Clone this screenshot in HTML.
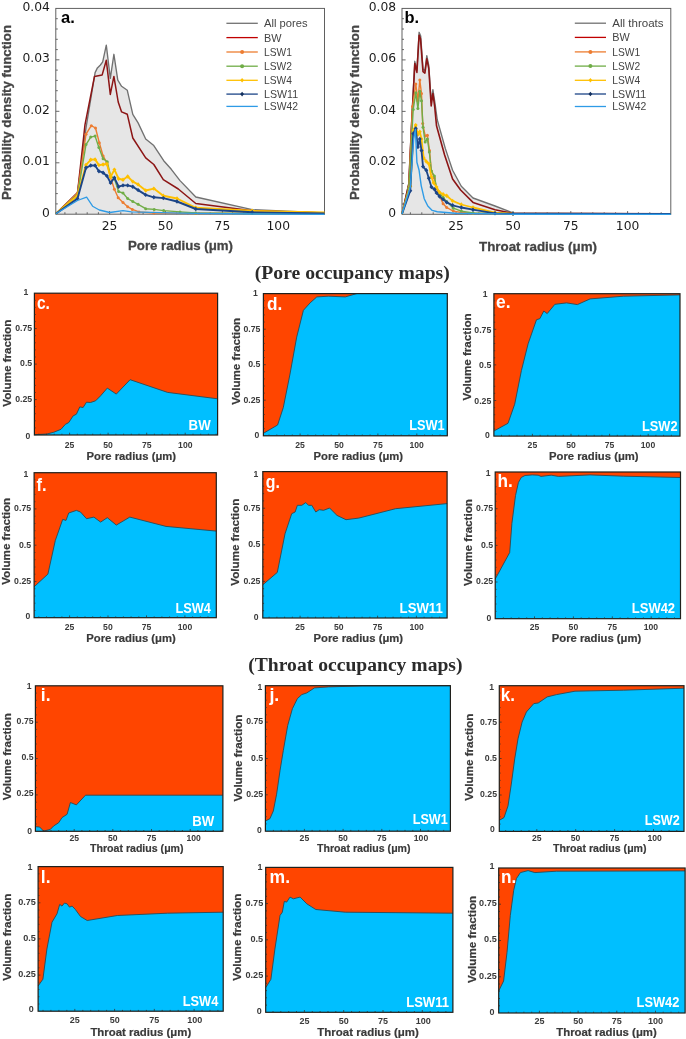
<!DOCTYPE html>
<html lang="en"><head><meta charset="utf-8"><title>Pore and throat occupancy</title>
<style>html,body{margin:0;padding:0;background:#fff}svg{display:block}.s{font-family:"Liberation Sans",sans-serif}.d{font-family:"DejaVu Sans","Liberation Sans",sans-serif}.r{font-family:"Liberation Serif",serif}</style></head><body>
<svg width="686" height="1039" viewBox="0 0 686 1039" style="will-change:transform">
<rect width="686" height="1039" fill="#fff"/>
<rect x="55.8" y="8.4" width="268.7" height="205.8" fill="#fff" stroke="none"/>
<path d="M55.8,213.8 L77.5,192.5 L86.0,128.0 L95.1,72.6 L97.4,67.9 L100.4,65.0 L102.7,61.8 L106.3,45.2 L110.3,78.3 L113.9,54.3 L117.8,80.2 L121.6,86.3 L127.3,90.3 L132.8,114.3 L138.1,122.9 L145.7,139.0 L153.8,145.6 L163.7,160.7 L171.3,169.3 L180.0,180.6 L195.8,197.0 L252.2,209.7 L324.5,212.8 L324.5,214.2 L55.8,214.2Z" fill="#e6e6e6" stroke="none"/>
<rect x="55.8" y="8.4" width="268.7" height="205.8" fill="none" stroke="#595959" stroke-width="0.95"/>
<text x="49.8" y="216.5" class="d" font-size="12.3" fill="#1a1a1a" text-anchor="end">0</text>
<text x="49.8" y="165.1" class="d" font-size="12.3" fill="#1a1a1a" text-anchor="end">0.01</text>
<text x="49.8" y="113.6" class="d" font-size="12.3" fill="#1a1a1a" text-anchor="end">0.02</text>
<text x="49.8" y="62.1" class="d" font-size="12.3" fill="#1a1a1a" text-anchor="end">0.03</text>
<text x="49.8" y="10.7" class="d" font-size="12.3" fill="#1a1a1a" text-anchor="end">0.04</text>
<text x="109.6" y="229.5" class="d" font-size="12.3" fill="#1a1a1a" text-anchor="middle">25</text>
<text x="165.5" y="229.5" class="d" font-size="12.3" fill="#1a1a1a" text-anchor="middle">50</text>
<text x="222.4" y="229.5" class="d" font-size="12.3" fill="#1a1a1a" text-anchor="middle">75</text>
<text x="278.3" y="229.5" class="d" font-size="12.3" fill="#1a1a1a" text-anchor="middle">100</text>
<path d="M55.8,162.8h3.6M55.8,111.3h3.6M55.8,59.8h3.6M55.8,203.9h2M55.8,193.6h2M55.8,183.3h2M55.8,173.0h2M55.8,152.5h2M55.8,142.2h2M55.8,131.9h2M55.8,121.6h2M55.8,101.0h2M55.8,90.7h2M55.8,80.4h2M55.8,70.1h2M55.8,49.6h2M55.8,39.3h2M55.8,29.0h2M55.8,18.7h2M109.6,214.2v-3.2M165.5,214.2v-3.2M222.4,214.2v-3.2M278.3,214.2v-3.2M64.9,214.2v-2M76.1,214.2v-2M87.2,214.2v-2M98.4,214.2v-2M120.8,214.2v-2M132.0,214.2v-2M143.1,214.2v-2M154.3,214.2v-2M176.7,214.2v-2M187.9,214.2v-2M199.0,214.2v-2M210.2,214.2v-2M232.6,214.2v-2M243.8,214.2v-2M254.9,214.2v-2M266.1,214.2v-2M288.5,214.2v-2M299.7,214.2v-2M310.8,214.2v-2M322.0,214.2v-2" fill="none" stroke="#595959" stroke-width="0.9"/>
<path d="M55.8,213.8 L77.5,192.5 L86.0,128.0 L95.1,72.6 L97.4,67.9 L100.4,65.0 L102.7,61.8 L106.3,45.2 L110.3,78.3 L113.9,54.3 L117.8,80.2 L121.6,86.3 L127.3,90.3 L132.8,114.3 L138.1,122.9 L145.7,139.0 L153.8,145.6 L163.7,160.7 L171.3,169.3 L180.0,180.6 L195.8,197.0 L252.2,209.7 L324.5,212.8" fill="none" stroke="#717171" stroke-width="1.35" stroke-linejoin="round"/>
<path d="M55.8,213.8 L77.5,193.0 L85.0,124.7 L94.5,76.4 L102.1,75.1 L106.3,60.3 L110.3,94.4 L113.9,76.4 L118.2,102.0 L121.6,111.9 L127.3,114.3 L132.8,138.0 L145.7,157.9 L153.8,164.5 L163.3,179.7 L178.3,189.0 L195.8,203.5 L252.2,210.7 L324.5,213.0" fill="none" stroke="#8c1515" stroke-width="1.5" stroke-linejoin="round"/>
<path d="M55.8,213.8 L77.5,193.0 L86.0,134.2 L91.3,125.7 L95.5,128.0 L99.3,142.7 L103.1,156.0 L106.9,162.6 L110.3,176.9 L114.4,189.2 L118.2,197.7 L123.0,202.4 L127.7,206.8 L132.4,209.4 L139.0,211.9 L153.8,213.0 L195.8,213.3 L252.2,213.5 L324.5,213.6" fill="none" stroke="#ed7d31" stroke-width="1.4" stroke-linejoin="round"/>
<circle cx="77.5" cy="193.0" r="1.5" fill="#ed7d31"/>
<circle cx="86.0" cy="134.2" r="1.5" fill="#ed7d31"/>
<circle cx="91.3" cy="125.7" r="1.5" fill="#ed7d31"/>
<circle cx="95.5" cy="128.0" r="1.5" fill="#ed7d31"/>
<circle cx="99.3" cy="142.7" r="1.5" fill="#ed7d31"/>
<circle cx="103.1" cy="156.0" r="1.5" fill="#ed7d31"/>
<circle cx="106.9" cy="162.6" r="1.5" fill="#ed7d31"/>
<circle cx="110.3" cy="176.9" r="1.5" fill="#ed7d31"/>
<circle cx="114.4" cy="189.2" r="1.5" fill="#ed7d31"/>
<circle cx="118.2" cy="197.7" r="1.5" fill="#ed7d31"/>
<circle cx="123.0" cy="202.4" r="1.5" fill="#ed7d31"/>
<circle cx="127.7" cy="206.8" r="1.5" fill="#ed7d31"/>
<circle cx="132.4" cy="209.4" r="1.5" fill="#ed7d31"/>
<circle cx="139.0" cy="211.9" r="1.5" fill="#ed7d31"/>
<circle cx="153.8" cy="213.0" r="1.5" fill="#ed7d31"/>
<circle cx="195.8" cy="213.3" r="1.5" fill="#ed7d31"/>
<circle cx="252.2" cy="213.5" r="1.5" fill="#ed7d31"/>
<path d="M55.8,213.8 L77.5,194.9 L86.0,144.6 L90.7,137.1 L95.1,136.1 L98.9,147.5 L103.1,158.8 L107.2,161.7 L110.6,175.9 L114.4,178.7 L118.6,191.6 L123.0,193.0 L127.7,198.6 L132.8,201.5 L138.1,204.3 L145.7,208.7 L154.2,209.4 L163.7,210.6 L180.0,211.9 L195.8,213.0 L252.2,213.5 L324.5,213.6" fill="none" stroke="#70ad47" stroke-width="1.4" stroke-linejoin="round"/>
<circle cx="77.5" cy="194.9" r="1.5" fill="#70ad47"/>
<circle cx="86.0" cy="144.6" r="1.5" fill="#70ad47"/>
<circle cx="90.7" cy="137.1" r="1.5" fill="#70ad47"/>
<circle cx="95.1" cy="136.1" r="1.5" fill="#70ad47"/>
<circle cx="98.9" cy="147.5" r="1.5" fill="#70ad47"/>
<circle cx="103.1" cy="158.8" r="1.5" fill="#70ad47"/>
<circle cx="107.2" cy="161.7" r="1.5" fill="#70ad47"/>
<circle cx="110.6" cy="175.9" r="1.5" fill="#70ad47"/>
<circle cx="114.4" cy="178.7" r="1.5" fill="#70ad47"/>
<circle cx="118.6" cy="191.6" r="1.5" fill="#70ad47"/>
<circle cx="123.0" cy="193.0" r="1.5" fill="#70ad47"/>
<circle cx="127.7" cy="198.6" r="1.5" fill="#70ad47"/>
<circle cx="132.8" cy="201.5" r="1.5" fill="#70ad47"/>
<circle cx="138.1" cy="204.3" r="1.5" fill="#70ad47"/>
<circle cx="145.7" cy="208.7" r="1.5" fill="#70ad47"/>
<circle cx="154.2" cy="209.4" r="1.5" fill="#70ad47"/>
<circle cx="163.7" cy="210.6" r="1.5" fill="#70ad47"/>
<circle cx="180.0" cy="211.9" r="1.5" fill="#70ad47"/>
<circle cx="195.8" cy="213.0" r="1.5" fill="#70ad47"/>
<circle cx="252.2" cy="213.5" r="1.5" fill="#70ad47"/>
<path d="M55.8,213.8 L77.5,195.8 L86.0,164.9 L90.7,159.8 L95.1,159.4 L98.9,165.1 L103.1,164.5 L106.9,164.0 L110.6,176.9 L114.4,169.6 L118.6,178.7 L123.0,179.7 L127.7,176.5 L132.8,181.6 L138.1,184.4 L145.7,190.5 L153.8,188.6 L163.3,195.8 L177.0,198.5 L195.8,207.8 L252.2,210.8 L324.5,212.4" fill="none" stroke="#ffc000" stroke-width="1.9" stroke-linejoin="round"/>
<path d="M77.5,193.6l2,2.2l-2,2.2l-2,-2.2zM86.0,162.7l2,2.2l-2,2.2l-2,-2.2zM90.7,157.6l2,2.2l-2,2.2l-2,-2.2zM95.1,157.2l2,2.2l-2,2.2l-2,-2.2zM98.9,162.9l2,2.2l-2,2.2l-2,-2.2zM103.1,162.3l2,2.2l-2,2.2l-2,-2.2zM106.9,161.8l2,2.2l-2,2.2l-2,-2.2zM110.6,174.7l2,2.2l-2,2.2l-2,-2.2zM114.4,167.4l2,2.2l-2,2.2l-2,-2.2zM118.6,176.5l2,2.2l-2,2.2l-2,-2.2zM123.0,177.5l2,2.2l-2,2.2l-2,-2.2zM127.7,174.3l2,2.2l-2,2.2l-2,-2.2zM132.8,179.4l2,2.2l-2,2.2l-2,-2.2zM138.1,182.2l2,2.2l-2,2.2l-2,-2.2zM145.7,188.3l2,2.2l-2,2.2l-2,-2.2zM153.8,186.4l2,2.2l-2,2.2l-2,-2.2zM163.3,193.6l2,2.2l-2,2.2l-2,-2.2zM177.0,196.3l2,2.2l-2,2.2l-2,-2.2zM195.8,205.6l2,2.2l-2,2.2l-2,-2.2zM252.2,208.6l2,2.2l-2,2.2l-2,-2.2z" fill="#ffc000"/>
<path d="M55.8,213.8 L77.5,198.6 L86.0,167.8 L90.7,165.5 L95.1,165.5 L98.9,171.2 L103.1,172.7 L106.9,175.9 L110.6,182.9 L114.4,177.8 L118.6,186.7 L123.0,185.4 L127.7,185.4 L132.8,186.7 L138.1,190.1 L145.7,194.9 L153.8,197.3 L163.3,198.1 L177.0,201.5 L195.8,209.0 L252.2,212.3 L324.5,213.5" fill="none" stroke="#1c4587" stroke-width="1.9" stroke-linejoin="round"/>
<path d="M77.5,196.4l2,2.2l-2,2.2l-2,-2.2zM86.0,165.6l2,2.2l-2,2.2l-2,-2.2zM90.7,163.3l2,2.2l-2,2.2l-2,-2.2zM95.1,163.3l2,2.2l-2,2.2l-2,-2.2zM98.9,169.0l2,2.2l-2,2.2l-2,-2.2zM103.1,170.5l2,2.2l-2,2.2l-2,-2.2zM106.9,173.7l2,2.2l-2,2.2l-2,-2.2zM110.6,180.7l2,2.2l-2,2.2l-2,-2.2zM114.4,175.6l2,2.2l-2,2.2l-2,-2.2zM118.6,184.5l2,2.2l-2,2.2l-2,-2.2zM123.0,183.2l2,2.2l-2,2.2l-2,-2.2zM127.7,183.2l2,2.2l-2,2.2l-2,-2.2zM132.8,184.5l2,2.2l-2,2.2l-2,-2.2zM138.1,187.9l2,2.2l-2,2.2l-2,-2.2zM145.7,192.7l2,2.2l-2,2.2l-2,-2.2zM153.8,195.1l2,2.2l-2,2.2l-2,-2.2zM163.3,195.9l2,2.2l-2,2.2l-2,-2.2zM177.0,199.3l2,2.2l-2,2.2l-2,-2.2zM195.8,206.8l2,2.2l-2,2.2l-2,-2.2zM252.2,210.1l2,2.2l-2,2.2l-2,-2.2z" fill="#1c4587"/>
<path d="M55.8,213.8 L77.5,200.5 L86.6,197.1 L92.6,206.2 L99.3,210.0 L109.7,212.5 L123.0,210.6 L131.5,211.9 L180.0,213.2 L252.2,214.0 L324.5,214.3" fill="none" stroke="#2e9be6" stroke-width="1.3" stroke-linejoin="round"/>
<text x="180.5" y="250.4" class="s" font-size="13.68" font-weight="bold" stroke="#444" stroke-width="0.3" fill="#444" text-anchor="middle" textLength="105.0" lengthAdjust="spacingAndGlyphs">Pore radius (μm)</text>
<text x="11.4" y="112.5" class="s" font-size="13.68" font-weight="bold" stroke="#444" stroke-width="0.3" fill="#444" text-anchor="middle" textLength="175.0" lengthAdjust="spacingAndGlyphs" transform="rotate(-90 11.4 112.5)">Probability density function</text>
<text x="61.0" y="22.6" class="s" font-size="16.38" font-weight="bold" fill="#000" text-anchor="start" textLength="13.8" lengthAdjust="spacingAndGlyphs">a.</text>
<line x1="226.4" x2="257.8" y1="23.3" y2="23.3" stroke="#717171" stroke-width="1.3"/>
<text x="264.0" y="27.2" class="s" font-size="11.07" fill="#444" text-anchor="start" textLength="43.5" lengthAdjust="spacingAndGlyphs">All pores</text>
<line x1="226.4" x2="257.8" y1="37.6" y2="37.6" stroke="#c00000" stroke-width="1.3"/>
<text x="264.0" y="41.5" class="s" font-size="11.07" fill="#444" text-anchor="start" textLength="17.5" lengthAdjust="spacingAndGlyphs">BW</text>
<line x1="226.4" x2="257.8" y1="52" y2="52" stroke="#ed7d31" stroke-width="1.3"/>
<circle cx="242.10000000000002" cy="52" r="2" fill="#ed7d31"/>
<text x="264.0" y="55.9" class="s" font-size="11.07" fill="#444" text-anchor="start" textLength="27.9" lengthAdjust="spacingAndGlyphs">LSW1</text>
<line x1="226.4" x2="257.8" y1="66.2" y2="66.2" stroke="#70ad47" stroke-width="1.3"/>
<circle cx="242.10000000000002" cy="66.2" r="2" fill="#70ad47"/>
<text x="264.0" y="70.1" class="s" font-size="11.07" fill="#444" text-anchor="start" textLength="27.9" lengthAdjust="spacingAndGlyphs">LSW2</text>
<line x1="226.4" x2="257.8" y1="80.3" y2="80.3" stroke="#ffc000" stroke-width="1.3"/>
<path d="M242.10000000000002,78.0 l1.9,2.3 l-1.9,2.3 l-1.9,-2.3z" fill="#ffc000"/>
<text x="264.0" y="84.2" class="s" font-size="11.07" fill="#444" text-anchor="start" textLength="27.9" lengthAdjust="spacingAndGlyphs">LSW4</text>
<line x1="226.4" x2="257.8" y1="94.1" y2="94.1" stroke="#1c4587" stroke-width="1.3"/>
<path d="M242.10000000000002,91.8 l1.9,2.3 l-1.9,2.3 l-1.9,-2.3z" fill="#14305e"/>
<text x="264.0" y="98.0" class="s" font-size="11.07" fill="#444" text-anchor="start" textLength="34.1" lengthAdjust="spacingAndGlyphs">LSW11</text>
<line x1="226.4" x2="257.8" y1="106.4" y2="106.4" stroke="#2e9be6" stroke-width="1.3"/>
<text x="264.0" y="110.3" class="s" font-size="11.07" fill="#444" text-anchor="start" textLength="34.1" lengthAdjust="spacingAndGlyphs">LSW42</text>
<rect x="402.0" y="8.4" width="268.8" height="205.9" fill="#fff" stroke="none"/>
<path d="M402.0,214.0 L408.8,183.5 L411.5,124.0 L414.8,61.3 L416.9,70.1 L419.1,32.3 L420.7,36.1 L423.0,69.1 L424.9,70.6 L426.8,55.6 L428.8,65.6 L431.2,102.1 L432.9,89.6 L434.9,102.6 L437.3,120.0 L445.3,148.4 L452.6,170.3 L461.3,186.3 L473.0,198.0 L495.0,206.0 L513.0,212.8 L670.8,213.8 L670.8,214.3 L402.0,214.3Z" fill="#e6e6e6" stroke="none"/>
<rect x="402.0" y="8.4" width="268.8" height="205.9" fill="none" stroke="#595959" stroke-width="0.95"/>
<text x="396.2" y="216.6" class="d" font-size="12.3" fill="#1a1a1a" text-anchor="end">0</text>
<text x="396.2" y="165.1" class="d" font-size="12.3" fill="#1a1a1a" text-anchor="end">0.02</text>
<text x="396.2" y="113.7" class="d" font-size="12.3" fill="#1a1a1a" text-anchor="end">0.04</text>
<text x="396.2" y="62.2" class="d" font-size="12.3" fill="#1a1a1a" text-anchor="end">0.06</text>
<text x="396.2" y="10.7" class="d" font-size="12.3" fill="#1a1a1a" text-anchor="end">0.08</text>
<text x="456" y="229.6" class="d" font-size="12.3" fill="#1a1a1a" text-anchor="middle">25</text>
<text x="513" y="229.6" class="d" font-size="12.3" fill="#1a1a1a" text-anchor="middle">50</text>
<text x="570.8" y="229.6" class="d" font-size="12.3" fill="#1a1a1a" text-anchor="middle">75</text>
<text x="627.6" y="229.6" class="d" font-size="12.3" fill="#1a1a1a" text-anchor="middle">100</text>
<path d="M402.0,162.8h3.6M402.0,111.4h3.6M402.0,59.9h3.6M402.0,204.0h2M402.0,193.7h2M402.0,183.4h2M402.0,173.1h2M402.0,152.5h2M402.0,142.2h2M402.0,131.9h2M402.0,121.6h2M402.0,101.1h2M402.0,90.8h2M402.0,80.5h2M402.0,70.2h2M402.0,49.6h2M402.0,39.3h2M402.0,29.0h2M402.0,18.7h2M456,214.3v-3.2M513,214.3v-3.2M570.8,214.3v-3.2M627.6,214.3v-3.2M410.4,214.3v-2M421.8,214.3v-2M433.2,214.3v-2M444.6,214.3v-2M467.4,214.3v-2M478.8,214.3v-2M490.2,214.3v-2M501.6,214.3v-2M524.4,214.3v-2M535.8,214.3v-2M547.2,214.3v-2M558.6,214.3v-2M581.4,214.3v-2M592.8,214.3v-2M604.2,214.3v-2M615.6,214.3v-2M638.4,214.3v-2M649.8,214.3v-2M661.2,214.3v-2" fill="none" stroke="#595959" stroke-width="0.9"/>
<path d="M402.0,214.0 L408.8,183.5 L411.5,124.0 L414.8,61.3 L416.9,70.1 L419.1,32.3 L420.7,36.1 L423.0,69.1 L424.9,70.6 L426.8,55.6 L428.8,65.6 L431.2,102.1 L432.9,89.6 L434.9,102.6 L437.3,120.0 L445.3,148.4 L452.6,170.3 L461.3,186.3 L473.0,198.0 L495.0,206.0 L513.0,212.8 L670.8,213.8" fill="none" stroke="#717171" stroke-width="1.35" stroke-linejoin="round"/>
<path d="M402.0,214.0 L408.8,184.1 L411.6,125.0 L414.8,63.6 L416.9,72.4 L419.1,35.2 L420.5,38.8 L423.0,71.6 L424.9,73.1 L426.8,58.8 L428.8,68.7 L431.2,105.9 L432.9,93.5 L434.7,106.6 L436.5,125.8 L444.6,155.0 L452.6,179.0 L460.6,190.0 L473.0,202.4 L495.0,209.7 L513.0,213.3 L670.8,213.8" fill="none" stroke="#8c1515" stroke-width="1.6" stroke-linejoin="round"/>
<path d="M402.0,214.0 L408.8,188.0 L412.5,106.6 L415.8,84.0 L417.9,100.8 L419.8,80.1 L421.5,93.5 L422.7,123.6 L425.2,136.0 L427.4,135.3 L429.5,150.6 L431.4,171.0 L434.4,178.0 L436.5,188.5 L439.5,195.8 L443.1,203.8 L446.7,207.5 L453.3,211.1 L461.3,212.5 L473.0,213.2 L513.0,213.8 L670.8,213.9" fill="none" stroke="#ed7d31" stroke-width="1.4" stroke-linejoin="round"/>
<circle cx="408.8" cy="188.0" r="1.5" fill="#ed7d31"/>
<circle cx="412.5" cy="106.6" r="1.5" fill="#ed7d31"/>
<circle cx="415.8" cy="84.0" r="1.5" fill="#ed7d31"/>
<circle cx="417.9" cy="100.8" r="1.5" fill="#ed7d31"/>
<circle cx="419.8" cy="80.1" r="1.5" fill="#ed7d31"/>
<circle cx="421.5" cy="93.5" r="1.5" fill="#ed7d31"/>
<circle cx="422.7" cy="123.6" r="1.5" fill="#ed7d31"/>
<circle cx="425.2" cy="136.0" r="1.5" fill="#ed7d31"/>
<circle cx="427.4" cy="135.3" r="1.5" fill="#ed7d31"/>
<circle cx="429.5" cy="150.6" r="1.5" fill="#ed7d31"/>
<circle cx="431.4" cy="171.0" r="1.5" fill="#ed7d31"/>
<circle cx="434.4" cy="178.0" r="1.5" fill="#ed7d31"/>
<circle cx="436.5" cy="188.5" r="1.5" fill="#ed7d31"/>
<circle cx="439.5" cy="195.8" r="1.5" fill="#ed7d31"/>
<circle cx="443.1" cy="203.8" r="1.5" fill="#ed7d31"/>
<circle cx="446.7" cy="207.5" r="1.5" fill="#ed7d31"/>
<circle cx="453.3" cy="211.1" r="1.5" fill="#ed7d31"/>
<circle cx="461.3" cy="212.5" r="1.5" fill="#ed7d31"/>
<circle cx="473.0" cy="213.2" r="1.5" fill="#ed7d31"/>
<circle cx="513.0" cy="213.8" r="1.5" fill="#ed7d31"/>
<path d="M402.0,214.0 L408.8,188.5 L413.2,109.5 L415.8,92.8 L417.9,108.4 L419.8,91.3 L421.5,100.8 L423.0,127.3 L425.2,141.9 L427.4,139.0 L429.3,152.0 L431.4,171.0 L434.4,176.1 L436.5,187.8 L439.5,192.9 L443.1,197.3 L446.7,201.6 L453.3,208.2 L461.3,211.1 L473.0,213.0 L513.0,213.8 L670.8,213.9" fill="none" stroke="#70ad47" stroke-width="1.4" stroke-linejoin="round"/>
<circle cx="408.8" cy="188.5" r="1.5" fill="#70ad47"/>
<circle cx="413.2" cy="109.5" r="1.5" fill="#70ad47"/>
<circle cx="415.8" cy="92.8" r="1.5" fill="#70ad47"/>
<circle cx="417.9" cy="108.4" r="1.5" fill="#70ad47"/>
<circle cx="419.8" cy="91.3" r="1.5" fill="#70ad47"/>
<circle cx="421.5" cy="100.8" r="1.5" fill="#70ad47"/>
<circle cx="423.0" cy="127.3" r="1.5" fill="#70ad47"/>
<circle cx="425.2" cy="141.9" r="1.5" fill="#70ad47"/>
<circle cx="427.4" cy="139.0" r="1.5" fill="#70ad47"/>
<circle cx="429.3" cy="152.0" r="1.5" fill="#70ad47"/>
<circle cx="431.4" cy="171.0" r="1.5" fill="#70ad47"/>
<circle cx="434.4" cy="176.1" r="1.5" fill="#70ad47"/>
<circle cx="436.5" cy="187.8" r="1.5" fill="#70ad47"/>
<circle cx="439.5" cy="192.9" r="1.5" fill="#70ad47"/>
<circle cx="443.1" cy="197.3" r="1.5" fill="#70ad47"/>
<circle cx="446.7" cy="201.6" r="1.5" fill="#70ad47"/>
<circle cx="453.3" cy="208.2" r="1.5" fill="#70ad47"/>
<circle cx="461.3" cy="211.1" r="1.5" fill="#70ad47"/>
<circle cx="473.0" cy="213.0" r="1.5" fill="#70ad47"/>
<circle cx="513.0" cy="213.8" r="1.5" fill="#70ad47"/>
<path d="M402.0,214.0 L410.3,186.3 L413.7,130.2 L415.7,125.1 L417.9,134.6 L419.8,131.7 L421.5,139.0 L423.7,157.9 L426.3,161.5 L428.8,163.7 L431.4,176.9 L433.6,182.7 L436.5,187.0 L439.5,192.2 L443.1,194.3 L446.7,195.8 L452.6,200.9 L461.3,204.5 L473.0,207.5 L495.0,212.6 L513.0,213.6 L670.8,213.9" fill="none" stroke="#ffc000" stroke-width="1.8" stroke-linejoin="round"/>
<path d="M410.3,184.1l2,2.2l-2,2.2l-2,-2.2zM413.7,128.0l2,2.2l-2,2.2l-2,-2.2zM415.7,122.9l2,2.2l-2,2.2l-2,-2.2zM417.9,132.4l2,2.2l-2,2.2l-2,-2.2zM419.8,129.5l2,2.2l-2,2.2l-2,-2.2zM421.5,136.8l2,2.2l-2,2.2l-2,-2.2zM423.7,155.7l2,2.2l-2,2.2l-2,-2.2zM426.3,159.3l2,2.2l-2,2.2l-2,-2.2zM428.8,161.5l2,2.2l-2,2.2l-2,-2.2zM431.4,174.7l2,2.2l-2,2.2l-2,-2.2zM433.6,180.5l2,2.2l-2,2.2l-2,-2.2zM436.5,184.8l2,2.2l-2,2.2l-2,-2.2zM439.5,190.0l2,2.2l-2,2.2l-2,-2.2zM443.1,192.1l2,2.2l-2,2.2l-2,-2.2zM446.7,193.6l2,2.2l-2,2.2l-2,-2.2zM452.6,198.7l2,2.2l-2,2.2l-2,-2.2zM461.3,202.3l2,2.2l-2,2.2l-2,-2.2zM473.0,205.3l2,2.2l-2,2.2l-2,-2.2zM495.0,210.4l2,2.2l-2,2.2l-2,-2.2zM513.0,211.4l2,2.2l-2,2.2l-2,-2.2z" fill="#ffc000"/>
<path d="M402.0,214.0 L410.3,190.7 L413.2,133.8 L415.7,128.5 L417.9,147.0 L419.8,139.0 L421.5,150.6 L423.0,166.6 L426.3,170.3 L428.8,178.3 L431.4,187.0 L434.4,189.2 L436.5,192.9 L439.5,196.5 L443.1,199.4 L446.7,202.4 L452.6,205.3 L461.3,207.5 L473.0,209.7 L495.0,213.3 L513.0,213.8 L670.8,213.9" fill="none" stroke="#1c4587" stroke-width="1.8" stroke-linejoin="round"/>
<path d="M410.3,188.5l2,2.2l-2,2.2l-2,-2.2zM413.2,131.6l2,2.2l-2,2.2l-2,-2.2zM415.7,126.3l2,2.2l-2,2.2l-2,-2.2zM417.9,144.8l2,2.2l-2,2.2l-2,-2.2zM419.8,136.8l2,2.2l-2,2.2l-2,-2.2zM421.5,148.4l2,2.2l-2,2.2l-2,-2.2zM423.0,164.4l2,2.2l-2,2.2l-2,-2.2zM426.3,168.1l2,2.2l-2,2.2l-2,-2.2zM428.8,176.1l2,2.2l-2,2.2l-2,-2.2zM431.4,184.8l2,2.2l-2,2.2l-2,-2.2zM434.4,187.0l2,2.2l-2,2.2l-2,-2.2zM436.5,190.7l2,2.2l-2,2.2l-2,-2.2zM439.5,194.3l2,2.2l-2,2.2l-2,-2.2zM443.1,197.2l2,2.2l-2,2.2l-2,-2.2zM446.7,200.2l2,2.2l-2,2.2l-2,-2.2zM452.6,203.1l2,2.2l-2,2.2l-2,-2.2zM461.3,205.3l2,2.2l-2,2.2l-2,-2.2zM473.0,207.5l2,2.2l-2,2.2l-2,-2.2zM495.0,211.1l2,2.2l-2,2.2l-2,-2.2zM513.0,211.6l2,2.2l-2,2.2l-2,-2.2z" fill="#1c4587"/>
<path d="M402.0,214.0 L410.3,187.0 L413.7,139.0 L415.4,129.5 L416.9,162.3 L419.1,170.3 L421.2,185.6 L424.2,198.7 L427.8,206.0 L432.2,210.4 L437.3,211.8 L455.0,213.2 L513.0,214.2 L670.8,214.4" fill="none" stroke="#2e9be6" stroke-width="1.4" stroke-linejoin="round"/>
<text x="538.0" y="250.5" class="s" font-size="13.68" font-weight="bold" stroke="#444" stroke-width="0.3" fill="#444" text-anchor="middle" textLength="118.0" lengthAdjust="spacingAndGlyphs">Throat radius (μm)</text>
<text x="358.5" y="112.5" class="s" font-size="13.68" font-weight="bold" stroke="#444" stroke-width="0.3" fill="#444" text-anchor="middle" textLength="175.0" lengthAdjust="spacingAndGlyphs" transform="rotate(-90 358.5 112.5)">Probability density function</text>
<text x="404.6" y="22.6" class="s" font-size="16.38" font-weight="bold" fill="#000" text-anchor="start" textLength="14.6" lengthAdjust="spacingAndGlyphs">b.</text>
<line x1="574.8" x2="606" y1="23.2" y2="23.2" stroke="#717171" stroke-width="1.3"/>
<text x="612.2" y="27.1" class="s" font-size="11.07" fill="#444" text-anchor="start" textLength="51.4" lengthAdjust="spacingAndGlyphs">All throats</text>
<line x1="574.8" x2="606" y1="37.4" y2="37.4" stroke="#c00000" stroke-width="1.3"/>
<text x="612.2" y="41.3" class="s" font-size="11.07" fill="#444" text-anchor="start" textLength="17.5" lengthAdjust="spacingAndGlyphs">BW</text>
<line x1="574.8" x2="606" y1="51.9" y2="51.9" stroke="#ed7d31" stroke-width="1.3"/>
<circle cx="590.4" cy="51.9" r="2" fill="#ed7d31"/>
<text x="612.2" y="55.8" class="s" font-size="11.07" fill="#444" text-anchor="start" textLength="27.9" lengthAdjust="spacingAndGlyphs">LSW1</text>
<line x1="574.8" x2="606" y1="66.1" y2="66.1" stroke="#70ad47" stroke-width="1.3"/>
<circle cx="590.4" cy="66.1" r="2" fill="#70ad47"/>
<text x="612.2" y="70.0" class="s" font-size="11.07" fill="#444" text-anchor="start" textLength="27.9" lengthAdjust="spacingAndGlyphs">LSW2</text>
<line x1="574.8" x2="606" y1="80.3" y2="80.3" stroke="#ffc000" stroke-width="1.3"/>
<path d="M590.4,78.0 l1.9,2.3 l-1.9,2.3 l-1.9,-2.3z" fill="#ffc000"/>
<text x="612.2" y="84.2" class="s" font-size="11.07" fill="#444" text-anchor="start" textLength="27.9" lengthAdjust="spacingAndGlyphs">LSW4</text>
<line x1="574.8" x2="606" y1="94" y2="94" stroke="#1c4587" stroke-width="1.3"/>
<path d="M590.4,91.7 l1.9,2.3 l-1.9,2.3 l-1.9,-2.3z" fill="#14305e"/>
<text x="612.2" y="97.9" class="s" font-size="11.07" fill="#444" text-anchor="start" textLength="34.1" lengthAdjust="spacingAndGlyphs">LSW11</text>
<line x1="574.8" x2="606" y1="106.5" y2="106.5" stroke="#2e9be6" stroke-width="1.3"/>
<text x="612.2" y="110.4" class="s" font-size="11.07" fill="#444" text-anchor="start" textLength="34.1" lengthAdjust="spacingAndGlyphs">LSW42</text>
<text x="352.3" y="278.7" class="r" font-size="19.7" font-weight="bold" fill="#2b2b2b" text-anchor="middle" textLength="195" lengthAdjust="spacingAndGlyphs">(Pore occupancy maps)</text>
<text x="355.4" y="671.2" class="r" font-size="19.7" font-weight="bold" fill="#2b2b2b" text-anchor="middle" textLength="214.3" lengthAdjust="spacingAndGlyphs">(Throat occupancy maps)</text>
<rect x="34.4" y="293.2" width="183.2" height="141.8" fill="#ff4500"/>
<path d="M34.4,434.7 L46.9,434.0 L53.6,432.3 L61.0,429.3 L65.4,424.3 L68.7,422.6 L73.1,415.9 L76.4,414.2 L79.8,406.9 L83.1,407.5 L86.5,402.2 L90.5,402.5 L95.6,400.8 L100.6,395.8 L107.3,388.1 L116.3,394.1 L130.1,379.7 L167.6,392.4 L217.6,398.8 L217.6,435.0 L34.4,435.0Z" fill="#00bfff" stroke="none"/>
<path d="M34.4,434.7 L46.9,434.0 L53.6,432.3 L61.0,429.3 L65.4,424.3 L68.7,422.6 L73.1,415.9 L76.4,414.2 L79.8,406.9 L83.1,407.5 L86.5,402.2 L90.5,402.5 L95.6,400.8 L100.6,395.8 L107.3,388.1 L116.3,394.1 L130.1,379.7 L167.6,392.4 L217.6,398.8" fill="none" stroke="#2b4a55" stroke-width="0.9" stroke-linejoin="round"/>
<rect x="34.4" y="293.2" width="183.2" height="141.8" fill="none" stroke="#20201c" stroke-width="1.2"/>
<text x="30.4" y="438.6" class="s" font-size="9.12" font-weight="bold" fill="#3a3a3a" text-anchor="end" textLength="4.8" lengthAdjust="spacingAndGlyphs">0</text>
<text x="32.2" y="401.6" class="s" font-size="9.12" font-weight="bold" fill="#3a3a3a" text-anchor="end" textLength="17.0" lengthAdjust="spacingAndGlyphs">0.25</text>
<text x="32.2" y="366.1" class="s" font-size="9.12" font-weight="bold" fill="#3a3a3a" text-anchor="end" textLength="12.2" lengthAdjust="spacingAndGlyphs">0.5</text>
<text x="32.2" y="330.6" class="s" font-size="9.12" font-weight="bold" fill="#3a3a3a" text-anchor="end" textLength="17.0" lengthAdjust="spacingAndGlyphs">0.75</text>
<text x="28.2" y="295.0" class="s" font-size="9.12" font-weight="bold" fill="#3a3a3a" text-anchor="end" textLength="4.8" lengthAdjust="spacingAndGlyphs">1</text>
<text x="69.6" y="448.0" class="s" font-size="9.12" font-weight="bold" fill="#3a3a3a" text-anchor="middle" textLength="9.6" lengthAdjust="spacingAndGlyphs">25</text>
<text x="108.0" y="448.0" class="s" font-size="9.12" font-weight="bold" fill="#3a3a3a" text-anchor="middle" textLength="9.6" lengthAdjust="spacingAndGlyphs">50</text>
<text x="146.7" y="448.0" class="s" font-size="9.12" font-weight="bold" fill="#3a3a3a" text-anchor="middle" textLength="9.6" lengthAdjust="spacingAndGlyphs">75</text>
<text x="185.3" y="448.0" class="s" font-size="9.12" font-weight="bold" fill="#3a3a3a" text-anchor="middle" textLength="14.4" lengthAdjust="spacingAndGlyphs">100</text>
<path d="M34.4,399.6h2.3M34.4,364.1h2.3M34.4,328.6h2.3M34.4,427.9h1.3M34.4,420.8h1.3M34.4,413.7h1.3M34.4,406.6h1.3M34.4,392.5h1.3M34.4,385.4h1.3M34.4,378.3h1.3M34.4,371.2h1.3M34.4,357.0h1.3M34.4,349.9h1.3M34.4,342.8h1.3M34.4,335.7h1.3M34.4,321.6h1.3M34.4,314.5h1.3M34.4,307.4h1.3M34.4,300.3h1.3M38.8,435.0v-1.3M46.5,435.0v-1.3M54.2,435.0v-1.3M61.9,435.0v-1.3M69.6,435.0v-2.3M77.3,435.0v-1.3M85.0,435.0v-1.3M92.7,435.0v-1.3M100.4,435.0v-1.3M108.1,435.0v-2.3M115.9,435.0v-1.3M123.6,435.0v-1.3M131.3,435.0v-1.3M139.0,435.0v-1.3M146.7,435.0v-2.3M154.4,435.0v-1.3M162.1,435.0v-1.3M169.8,435.0v-1.3M177.5,435.0v-1.3M185.2,435.0v-2.3M193.0,435.0v-1.3M200.7,435.0v-1.3M208.4,435.0v-1.3M216.1,435.0v-1.3" fill="none" stroke="#30302c" stroke-width="0.75"/>
<text x="131.3" y="459.7" class="s" font-size="11.70" font-weight="bold" stroke="#3a3a3a" stroke-width="0.2" fill="#3a3a3a" text-anchor="middle" textLength="89.5" lengthAdjust="spacingAndGlyphs">Pore radius (μm)</text>
<text x="11.3" y="363.2" class="s" font-size="11.70" font-weight="bold" stroke="#3a3a3a" stroke-width="0.2" fill="#3a3a3a" text-anchor="middle" textLength="87.0" lengthAdjust="spacingAndGlyphs" transform="rotate(-90 11.3 363.2)">Volume fraction</text>
<text x="36.9" y="308.6" class="s" font-size="17.60" font-weight="bold" fill="#fff" text-anchor="start" textLength="13.0" lengthAdjust="spacingAndGlyphs">c.</text>
<text x="210.7" y="430.2" class="s" font-size="15.40" font-weight="bold" fill="#fff" text-anchor="end" textLength="22.1" lengthAdjust="spacingAndGlyphs">BW</text>
<rect x="263.4" y="293.6" width="183.9" height="142.2" fill="#ff4500"/>
<path d="M263.4,433.3 L277.6,425.0 L283.3,407.5 L290.0,374.0 L296.7,337.1 L303.4,310.3 L310.1,302.9 L316.8,296.9 L328.6,296.2 L345.3,296.9 L357.0,293.5 L447.3,293.5 L447.3,435.8 L263.4,435.8Z" fill="#00bfff" stroke="none"/>
<path d="M263.4,433.3 L277.6,425.0 L283.3,407.5 L290.0,374.0 L296.7,337.1 L303.4,310.3 L310.1,302.9 L316.8,296.9 L328.6,296.2 L345.3,296.9 L357.0,293.5 L447.3,293.5" fill="none" stroke="#2b4a55" stroke-width="0.9" stroke-linejoin="round"/>
<rect x="263.4" y="293.6" width="183.9" height="142.2" fill="none" stroke="#20201c" stroke-width="1.2"/>
<text x="259.3" y="438.3" class="s" font-size="9.12" font-weight="bold" fill="#3a3a3a" text-anchor="end" textLength="4.8" lengthAdjust="spacingAndGlyphs">0</text>
<text x="260.4" y="402.6" class="s" font-size="9.12" font-weight="bold" fill="#3a3a3a" text-anchor="end" textLength="17.0" lengthAdjust="spacingAndGlyphs">0.25</text>
<text x="260.4" y="367.0" class="s" font-size="9.12" font-weight="bold" fill="#3a3a3a" text-anchor="end" textLength="12.2" lengthAdjust="spacingAndGlyphs">0.5</text>
<text x="260.4" y="331.5" class="s" font-size="9.12" font-weight="bold" fill="#3a3a3a" text-anchor="end" textLength="17.0" lengthAdjust="spacingAndGlyphs">0.75</text>
<text x="257.8" y="295.6" class="s" font-size="9.12" font-weight="bold" fill="#3a3a3a" text-anchor="end" textLength="4.8" lengthAdjust="spacingAndGlyphs">1</text>
<text x="300.1" y="448.0" class="s" font-size="9.12" font-weight="bold" fill="#3a3a3a" text-anchor="middle" textLength="9.6" lengthAdjust="spacingAndGlyphs">25</text>
<text x="339.0" y="448.0" class="s" font-size="9.12" font-weight="bold" fill="#3a3a3a" text-anchor="middle" textLength="9.6" lengthAdjust="spacingAndGlyphs">50</text>
<text x="377.9" y="448.0" class="s" font-size="9.12" font-weight="bold" fill="#3a3a3a" text-anchor="middle" textLength="9.6" lengthAdjust="spacingAndGlyphs">75</text>
<text x="416.7" y="448.0" class="s" font-size="9.12" font-weight="bold" fill="#3a3a3a" text-anchor="middle" textLength="14.4" lengthAdjust="spacingAndGlyphs">100</text>
<path d="M263.4,400.2h2.3M263.4,364.7h2.3M263.4,329.2h2.3M263.4,428.7h1.3M263.4,421.6h1.3M263.4,414.5h1.3M263.4,407.4h1.3M263.4,393.1h1.3M263.4,386.0h1.3M263.4,378.9h1.3M263.4,371.8h1.3M263.4,357.6h1.3M263.4,350.5h1.3M263.4,343.4h1.3M263.4,336.3h1.3M263.4,322.0h1.3M263.4,314.9h1.3M263.4,307.8h1.3M263.4,300.7h1.3M269.0,435.8v-1.3M276.8,435.8v-1.3M284.5,435.8v-1.3M292.3,435.8v-1.3M300.1,435.8v-2.3M307.9,435.8v-1.3M315.7,435.8v-1.3M323.4,435.8v-1.3M331.2,435.8v-1.3M339.0,435.8v-2.3M346.8,435.8v-1.3M354.6,435.8v-1.3M362.3,435.8v-1.3M370.1,435.8v-1.3M377.9,435.8v-2.3M385.7,435.8v-1.3M393.5,435.8v-1.3M401.2,435.8v-1.3M409.0,435.8v-1.3M416.8,435.8v-2.3M424.6,435.8v-1.3M432.4,435.8v-1.3M440.1,435.8v-1.3" fill="none" stroke="#30302c" stroke-width="0.75"/>
<text x="358.3" y="459.7" class="s" font-size="11.70" font-weight="bold" stroke="#3a3a3a" stroke-width="0.2" fill="#3a3a3a" text-anchor="middle" textLength="89.5" lengthAdjust="spacingAndGlyphs">Pore radius (μm)</text>
<text x="239.9" y="361.3" class="s" font-size="11.70" font-weight="bold" stroke="#3a3a3a" stroke-width="0.2" fill="#3a3a3a" text-anchor="middle" textLength="87.0" lengthAdjust="spacingAndGlyphs" transform="rotate(-90 239.9 361.3)">Volume fraction</text>
<text x="267.0" y="309.5" class="s" font-size="17.60" font-weight="bold" fill="#fff" text-anchor="start" textLength="15.3" lengthAdjust="spacingAndGlyphs">d.</text>
<text x="444.6" y="430.4" class="s" font-size="15.40" font-weight="bold" fill="#fff" text-anchor="end" textLength="35.4" lengthAdjust="spacingAndGlyphs">LSW1</text>
<rect x="493.9" y="293.7" width="186.1" height="142.4" fill="#ff4500"/>
<path d="M493.9,431.0 L508.0,423.3 L514.7,404.2 L521.4,370.6 L528.1,343.8 L536.5,319.7 L539.8,318.7 L543.8,311.0 L547.2,313.6 L554.9,304.3 L566.6,302.9 L577.4,304.6 L590.1,298.9 L623.6,296.2 L680.0,294.9 L680.0,436.1 L493.9,436.1Z" fill="#00bfff" stroke="none"/>
<path d="M493.9,431.0 L508.0,423.3 L514.7,404.2 L521.4,370.6 L528.1,343.8 L536.5,319.7 L539.8,318.7 L543.8,311.0 L547.2,313.6 L554.9,304.3 L566.6,302.9 L577.4,304.6 L590.1,298.9 L623.6,296.2 L680.0,294.9" fill="none" stroke="#2b4a55" stroke-width="0.9" stroke-linejoin="round"/>
<rect x="493.9" y="293.7" width="186.1" height="142.4" fill="none" stroke="#20201c" stroke-width="1.2"/>
<text x="489.8" y="438.3" class="s" font-size="9.12" font-weight="bold" fill="#3a3a3a" text-anchor="end" textLength="4.8" lengthAdjust="spacingAndGlyphs">0</text>
<text x="491.3" y="403.7" class="s" font-size="9.12" font-weight="bold" fill="#3a3a3a" text-anchor="end" textLength="17.0" lengthAdjust="spacingAndGlyphs">0.25</text>
<text x="491.3" y="368.1" class="s" font-size="9.12" font-weight="bold" fill="#3a3a3a" text-anchor="end" textLength="12.2" lengthAdjust="spacingAndGlyphs">0.5</text>
<text x="491.3" y="332.5" class="s" font-size="9.12" font-weight="bold" fill="#3a3a3a" text-anchor="end" textLength="17.0" lengthAdjust="spacingAndGlyphs">0.75</text>
<text x="487.5" y="297.4" class="s" font-size="9.12" font-weight="bold" fill="#3a3a3a" text-anchor="end" textLength="4.8" lengthAdjust="spacingAndGlyphs">1</text>
<text x="532.4" y="448.0" class="s" font-size="9.12" font-weight="bold" fill="#3a3a3a" text-anchor="middle" textLength="9.6" lengthAdjust="spacingAndGlyphs">25</text>
<text x="571.0" y="448.0" class="s" font-size="9.12" font-weight="bold" fill="#3a3a3a" text-anchor="middle" textLength="9.6" lengthAdjust="spacingAndGlyphs">50</text>
<text x="609.6" y="448.0" class="s" font-size="9.12" font-weight="bold" fill="#3a3a3a" text-anchor="middle" textLength="9.6" lengthAdjust="spacingAndGlyphs">75</text>
<text x="648.0" y="448.0" class="s" font-size="9.12" font-weight="bold" fill="#3a3a3a" text-anchor="middle" textLength="14.4" lengthAdjust="spacingAndGlyphs">100</text>
<path d="M493.9,400.5h2.3M493.9,364.9h2.3M493.9,329.3h2.3M493.9,429.0h1.3M493.9,421.9h1.3M493.9,414.7h1.3M493.9,407.6h1.3M493.9,393.4h1.3M493.9,386.3h1.3M493.9,379.1h1.3M493.9,372.0h1.3M493.9,357.8h1.3M493.9,350.7h1.3M493.9,343.5h1.3M493.9,336.4h1.3M493.9,322.2h1.3M493.9,315.1h1.3M493.9,307.9h1.3M493.9,300.8h1.3M501.5,436.1v-1.3M509.2,436.1v-1.3M517.0,436.1v-1.3M524.7,436.1v-1.3M532.4,436.1v-2.3M540.1,436.1v-1.3M547.8,436.1v-1.3M555.6,436.1v-1.3M563.3,436.1v-1.3M571.0,436.1v-2.3M578.7,436.1v-1.3M586.4,436.1v-1.3M594.2,436.1v-1.3M601.9,436.1v-1.3M609.6,436.1v-2.3M617.3,436.1v-1.3M625.0,436.1v-1.3M632.8,436.1v-1.3M640.5,436.1v-1.3M648.2,436.1v-2.3M655.9,436.1v-1.3M663.6,436.1v-1.3M671.4,436.1v-1.3" fill="none" stroke="#30302c" stroke-width="0.75"/>
<text x="593.8" y="459.7" class="s" font-size="11.70" font-weight="bold" stroke="#3a3a3a" stroke-width="0.2" fill="#3a3a3a" text-anchor="middle" textLength="89.5" lengthAdjust="spacingAndGlyphs">Pore radius (μm)</text>
<text x="471.2" y="356.9" class="s" font-size="11.70" font-weight="bold" stroke="#3a3a3a" stroke-width="0.2" fill="#3a3a3a" text-anchor="middle" textLength="87.0" lengthAdjust="spacingAndGlyphs" transform="rotate(-90 471.2 356.9)">Volume fraction</text>
<text x="496.1" y="308.4" class="s" font-size="17.60" font-weight="bold" fill="#fff" text-anchor="start" textLength="14.6" lengthAdjust="spacingAndGlyphs">e.</text>
<text x="677.6" y="431.1" class="s" font-size="15.40" font-weight="bold" fill="#fff" text-anchor="end" textLength="35.6" lengthAdjust="spacingAndGlyphs">LSW2</text>
<rect x="34.1" y="472.7" width="182.2" height="145.0" fill="#ff4500"/>
<path d="M34.1,586.8 L47.9,574.1 L55.3,540.5 L62.7,519.4 L66.0,520.4 L68.7,513.0 L76.4,510.4 L80.5,512.0 L86.5,518.7 L93.9,517.1 L100.6,522.1 L107.3,517.7 L116.3,525.1 L129.8,517.1 L166.0,526.4 L216.3,531.1 L216.3,617.7 L34.1,617.7Z" fill="#00bfff" stroke="none"/>
<path d="M34.1,586.8 L47.9,574.1 L55.3,540.5 L62.7,519.4 L66.0,520.4 L68.7,513.0 L76.4,510.4 L80.5,512.0 L86.5,518.7 L93.9,517.1 L100.6,522.1 L107.3,517.7 L116.3,525.1 L129.8,517.1 L166.0,526.4 L216.3,531.1" fill="none" stroke="#2b4a55" stroke-width="0.9" stroke-linejoin="round"/>
<rect x="34.1" y="472.7" width="182.2" height="145.0" fill="none" stroke="#20201c" stroke-width="1.2"/>
<text x="30.3" y="618.9" class="s" font-size="9.12" font-weight="bold" fill="#3a3a3a" text-anchor="end" textLength="4.8" lengthAdjust="spacingAndGlyphs">0</text>
<text x="31.1" y="583.8" class="s" font-size="9.12" font-weight="bold" fill="#3a3a3a" text-anchor="end" textLength="17.0" lengthAdjust="spacingAndGlyphs">0.25</text>
<text x="31.1" y="547.5" class="s" font-size="9.12" font-weight="bold" fill="#3a3a3a" text-anchor="end" textLength="12.2" lengthAdjust="spacingAndGlyphs">0.5</text>
<text x="31.1" y="511.2" class="s" font-size="9.12" font-weight="bold" fill="#3a3a3a" text-anchor="end" textLength="17.0" lengthAdjust="spacingAndGlyphs">0.75</text>
<text x="28.2" y="476.6" class="s" font-size="9.12" font-weight="bold" fill="#3a3a3a" text-anchor="end" textLength="4.8" lengthAdjust="spacingAndGlyphs">1</text>
<text x="69.6" y="630.3" class="s" font-size="9.12" font-weight="bold" fill="#3a3a3a" text-anchor="middle" textLength="9.6" lengthAdjust="spacingAndGlyphs">25</text>
<text x="107.9" y="630.3" class="s" font-size="9.12" font-weight="bold" fill="#3a3a3a" text-anchor="middle" textLength="9.6" lengthAdjust="spacingAndGlyphs">50</text>
<text x="146.5" y="630.3" class="s" font-size="9.12" font-weight="bold" fill="#3a3a3a" text-anchor="middle" textLength="9.6" lengthAdjust="spacingAndGlyphs">75</text>
<text x="185.0" y="630.3" class="s" font-size="9.12" font-weight="bold" fill="#3a3a3a" text-anchor="middle" textLength="14.4" lengthAdjust="spacingAndGlyphs">100</text>
<path d="M34.1,581.5h2.3M34.1,545.2h2.3M34.1,508.9h2.3M34.1,610.5h1.3M34.1,603.2h1.3M34.1,596.0h1.3M34.1,588.7h1.3M34.1,574.2h1.3M34.1,567.0h1.3M34.1,559.7h1.3M34.1,552.5h1.3M34.1,538.0h1.3M34.1,530.7h1.3M34.1,523.5h1.3M34.1,516.2h1.3M34.1,501.7h1.3M34.1,494.4h1.3M34.1,487.2h1.3M34.1,479.9h1.3M38.8,617.7v-1.3M46.5,617.7v-1.3M54.2,617.7v-1.3M61.9,617.7v-1.3M69.6,617.7v-2.3M77.3,617.7v-1.3M85.0,617.7v-1.3M92.7,617.7v-1.3M100.4,617.7v-1.3M108.0,617.7v-2.3M115.7,617.7v-1.3M123.4,617.7v-1.3M131.1,617.7v-1.3M138.8,617.7v-1.3M146.5,617.7v-2.3M154.2,617.7v-1.3M161.9,617.7v-1.3M169.6,617.7v-1.3M177.3,617.7v-1.3M184.9,617.7v-2.3M192.6,617.7v-1.3M200.3,617.7v-1.3M208.0,617.7v-1.3" fill="none" stroke="#30302c" stroke-width="0.75"/>
<text x="131.0" y="642.2" class="s" font-size="11.70" font-weight="bold" stroke="#3a3a3a" stroke-width="0.2" fill="#3a3a3a" text-anchor="middle" textLength="89.5" lengthAdjust="spacingAndGlyphs">Pore radius (μm)</text>
<text x="10.3" y="541.3" class="s" font-size="11.70" font-weight="bold" stroke="#3a3a3a" stroke-width="0.2" fill="#3a3a3a" text-anchor="middle" textLength="87.0" lengthAdjust="spacingAndGlyphs" transform="rotate(-90 10.3 541.3)">Volume fraction</text>
<text x="36.4" y="490.5" class="s" font-size="17.60" font-weight="bold" fill="#fff" text-anchor="start" textLength="10.1" lengthAdjust="spacingAndGlyphs">f.</text>
<text x="211.0" y="612.7" class="s" font-size="15.40" font-weight="bold" fill="#fff" text-anchor="end" textLength="35.6" lengthAdjust="spacingAndGlyphs">LSW4</text>
<rect x="262.8" y="471.6" width="184.3" height="146.4" fill="#ff4500"/>
<path d="M262.8,584.8 L277.3,572.4 L285.0,533.8 L291.7,513.7 L295.1,512.0 L297.4,505.3 L301.8,505.3 L305.8,502.6 L308.5,505.3 L311.8,505.3 L315.8,512.0 L319.2,509.7 L323.6,510.3 L329.6,508.0 L337.0,515.4 L346.0,519.7 L358.8,518.1 L395.6,508.7 L447.1,503.6 L447.1,618.0 L262.8,618.0Z" fill="#00bfff" stroke="none"/>
<path d="M262.8,584.8 L277.3,572.4 L285.0,533.8 L291.7,513.7 L295.1,512.0 L297.4,505.3 L301.8,505.3 L305.8,502.6 L308.5,505.3 L311.8,505.3 L315.8,512.0 L319.2,509.7 L323.6,510.3 L329.6,508.0 L337.0,515.4 L346.0,519.7 L358.8,518.1 L395.6,508.7 L447.1,503.6" fill="none" stroke="#2b4a55" stroke-width="0.9" stroke-linejoin="round"/>
<rect x="262.8" y="471.6" width="184.3" height="146.4" fill="none" stroke="#20201c" stroke-width="1.2"/>
<text x="258.5" y="620.4" class="s" font-size="9.12" font-weight="bold" fill="#3a3a3a" text-anchor="end" textLength="4.8" lengthAdjust="spacingAndGlyphs">0</text>
<text x="260.4" y="584.0" class="s" font-size="9.12" font-weight="bold" fill="#3a3a3a" text-anchor="end" textLength="17.0" lengthAdjust="spacingAndGlyphs">0.25</text>
<text x="260.4" y="547.4" class="s" font-size="9.12" font-weight="bold" fill="#3a3a3a" text-anchor="end" textLength="12.2" lengthAdjust="spacingAndGlyphs">0.5</text>
<text x="260.4" y="510.8" class="s" font-size="9.12" font-weight="bold" fill="#3a3a3a" text-anchor="end" textLength="17.0" lengthAdjust="spacingAndGlyphs">0.75</text>
<text x="258.4" y="476.6" class="s" font-size="9.12" font-weight="bold" fill="#3a3a3a" text-anchor="end" textLength="4.8" lengthAdjust="spacingAndGlyphs">1</text>
<text x="300.1" y="630.3" class="s" font-size="9.12" font-weight="bold" fill="#3a3a3a" text-anchor="middle" textLength="9.6" lengthAdjust="spacingAndGlyphs">25</text>
<text x="338.8" y="630.3" class="s" font-size="9.12" font-weight="bold" fill="#3a3a3a" text-anchor="middle" textLength="9.6" lengthAdjust="spacingAndGlyphs">50</text>
<text x="377.6" y="630.3" class="s" font-size="9.12" font-weight="bold" fill="#3a3a3a" text-anchor="middle" textLength="9.6" lengthAdjust="spacingAndGlyphs">75</text>
<text x="416.6" y="630.3" class="s" font-size="9.12" font-weight="bold" fill="#3a3a3a" text-anchor="middle" textLength="14.4" lengthAdjust="spacingAndGlyphs">100</text>
<path d="M262.8,581.4h2.3M262.8,544.8h2.3M262.8,508.2h2.3M262.8,610.7h1.3M262.8,603.4h1.3M262.8,596.0h1.3M262.8,588.7h1.3M262.8,574.1h1.3M262.8,566.8h1.3M262.8,559.4h1.3M262.8,552.1h1.3M262.8,537.5h1.3M262.8,530.2h1.3M262.8,522.8h1.3M262.8,515.5h1.3M262.8,500.9h1.3M262.8,493.6h1.3M262.8,486.2h1.3M262.8,478.9h1.3M269.1,618.0v-1.3M276.9,618.0v-1.3M284.6,618.0v-1.3M292.4,618.0v-1.3M300.1,618.0v-2.3M307.9,618.0v-1.3M315.6,618.0v-1.3M323.4,618.0v-1.3M331.1,618.0v-1.3M338.9,618.0v-2.3M346.6,618.0v-1.3M354.4,618.0v-1.3M362.1,618.0v-1.3M369.9,618.0v-1.3M377.6,618.0v-2.3M385.4,618.0v-1.3M393.1,618.0v-1.3M400.9,618.0v-1.3M408.6,618.0v-1.3M416.4,618.0v-2.3M424.1,618.0v-1.3M431.9,618.0v-1.3M439.6,618.0v-1.3" fill="none" stroke="#30302c" stroke-width="0.75"/>
<text x="358.3" y="642.0" class="s" font-size="11.70" font-weight="bold" stroke="#3a3a3a" stroke-width="0.2" fill="#3a3a3a" text-anchor="middle" textLength="89.5" lengthAdjust="spacingAndGlyphs">Pore radius (μm)</text>
<text x="239.0" y="542.2" class="s" font-size="11.70" font-weight="bold" stroke="#3a3a3a" stroke-width="0.2" fill="#3a3a3a" text-anchor="middle" textLength="87.0" lengthAdjust="spacingAndGlyphs" transform="rotate(-90 239.0 542.2)">Volume fraction</text>
<text x="265.7" y="488.2" class="s" font-size="17.60" font-weight="bold" fill="#fff" text-anchor="start" textLength="14.1" lengthAdjust="spacingAndGlyphs">g.</text>
<text x="442.8" y="613.3" class="s" font-size="15.40" font-weight="bold" fill="#fff" text-anchor="end" textLength="43.2" lengthAdjust="spacingAndGlyphs">LSW11</text>
<rect x="495.2" y="472.0" width="185.3" height="146.7" fill="#ff4500"/>
<path d="M495.2,579.1 L509.7,552.5 L511.9,523.3 L515.5,495.6 L518.4,482.5 L521.3,477.4 L525.0,475.5 L532.3,474.9 L538.1,475.2 L541.0,476.4 L551.2,475.2 L558.5,476.4 L590.0,474.9 L623.6,476.2 L680.5,477.5 L680.5,618.7 L495.2,618.7Z" fill="#00bfff" stroke="none"/>
<path d="M495.2,579.1 L509.7,552.5 L511.9,523.3 L515.5,495.6 L518.4,482.5 L521.3,477.4 L525.0,475.5 L532.3,474.9 L538.1,475.2 L541.0,476.4 L551.2,475.2 L558.5,476.4 L590.0,474.9 L623.6,476.2 L680.5,477.5" fill="none" stroke="#2b4a55" stroke-width="0.9" stroke-linejoin="round"/>
<rect x="495.2" y="472.0" width="185.3" height="146.7" fill="none" stroke="#20201c" stroke-width="1.2"/>
<text x="491.3" y="621.3" class="s" font-size="9.12" font-weight="bold" fill="#3a3a3a" text-anchor="end" textLength="4.8" lengthAdjust="spacingAndGlyphs">0</text>
<text x="493.1" y="584.3" class="s" font-size="9.12" font-weight="bold" fill="#3a3a3a" text-anchor="end" textLength="17.0" lengthAdjust="spacingAndGlyphs">0.25</text>
<text x="493.1" y="547.6" class="s" font-size="9.12" font-weight="bold" fill="#3a3a3a" text-anchor="end" textLength="12.2" lengthAdjust="spacingAndGlyphs">0.5</text>
<text x="493.1" y="511.0" class="s" font-size="9.12" font-weight="bold" fill="#3a3a3a" text-anchor="end" textLength="17.0" lengthAdjust="spacingAndGlyphs">0.75</text>
<text x="490.6" y="475.7" class="s" font-size="9.12" font-weight="bold" fill="#3a3a3a" text-anchor="end" textLength="4.8" lengthAdjust="spacingAndGlyphs">1</text>
<text x="534.5" y="630.3" class="s" font-size="9.12" font-weight="bold" fill="#3a3a3a" text-anchor="middle" textLength="9.6" lengthAdjust="spacingAndGlyphs">25</text>
<text x="573.4" y="630.3" class="s" font-size="9.12" font-weight="bold" fill="#3a3a3a" text-anchor="middle" textLength="9.6" lengthAdjust="spacingAndGlyphs">50</text>
<text x="612.3" y="630.3" class="s" font-size="9.12" font-weight="bold" fill="#3a3a3a" text-anchor="middle" textLength="9.6" lengthAdjust="spacingAndGlyphs">75</text>
<text x="650.9" y="630.3" class="s" font-size="9.12" font-weight="bold" fill="#3a3a3a" text-anchor="middle" textLength="14.4" lengthAdjust="spacingAndGlyphs">100</text>
<path d="M495.2,582.0h2.3M495.2,545.4h2.3M495.2,508.7h2.3M495.2,611.4h1.3M495.2,604.0h1.3M495.2,596.7h1.3M495.2,589.4h1.3M495.2,574.7h1.3M495.2,567.4h1.3M495.2,560.0h1.3M495.2,552.7h1.3M495.2,538.0h1.3M495.2,530.7h1.3M495.2,523.3h1.3M495.2,516.0h1.3M495.2,501.3h1.3M495.2,494.0h1.3M495.2,486.7h1.3M495.2,479.3h1.3M503.4,618.7v-1.3M511.2,618.7v-1.3M518.9,618.7v-1.3M526.7,618.7v-1.3M534.5,618.7v-2.3M542.3,618.7v-1.3M550.1,618.7v-1.3M557.8,618.7v-1.3M565.6,618.7v-1.3M573.4,618.7v-2.3M581.2,618.7v-1.3M589.0,618.7v-1.3M596.7,618.7v-1.3M604.5,618.7v-1.3M612.3,618.7v-2.3M620.1,618.7v-1.3M627.9,618.7v-1.3M635.6,618.7v-1.3M643.4,618.7v-1.3M651.2,618.7v-2.3M659.0,618.7v-1.3M666.8,618.7v-1.3M674.5,618.7v-1.3" fill="none" stroke="#30302c" stroke-width="0.75"/>
<text x="596.5" y="641.6" class="s" font-size="11.70" font-weight="bold" stroke="#3a3a3a" stroke-width="0.2" fill="#3a3a3a" text-anchor="middle" textLength="89.5" lengthAdjust="spacingAndGlyphs">Pore radius (μm)</text>
<text x="471.6" y="542.6" class="s" font-size="11.70" font-weight="bold" stroke="#3a3a3a" stroke-width="0.2" fill="#3a3a3a" text-anchor="middle" textLength="87.0" lengthAdjust="spacingAndGlyphs" transform="rotate(-90 471.6 542.6)">Volume fraction</text>
<text x="497.4" y="487.3" class="s" font-size="17.60" font-weight="bold" fill="#fff" text-anchor="start" textLength="15.3" lengthAdjust="spacingAndGlyphs">h.</text>
<text x="675.1" y="613.3" class="s" font-size="15.40" font-weight="bold" fill="#fff" text-anchor="end" textLength="43.3" lengthAdjust="spacingAndGlyphs">LSW42</text>
<rect x="35.4" y="685.8" width="187.5" height="145.5" fill="#ff4500"/>
<path d="M35.4,826.7 L39.6,827.0 L43.6,831.1 L50.3,829.4 L53.6,826.0 L58.7,822.7 L62.0,817.6 L67.1,814.3 L70.4,802.5 L76.4,804.9 L85.5,795.2 L222.9,795.2 L222.9,831.3 L35.4,831.3Z" fill="#00bfff" stroke="none"/>
<path d="M35.4,826.7 L39.6,827.0 L43.6,831.1 L50.3,829.4 L53.6,826.0 L58.7,822.7 L62.0,817.6 L67.1,814.3 L70.4,802.5 L76.4,804.9 L85.5,795.2 L222.9,795.2" fill="none" stroke="#2b4a55" stroke-width="0.9" stroke-linejoin="round"/>
<rect x="35.4" y="685.8" width="187.5" height="145.5" fill="none" stroke="#20201c" stroke-width="1.2"/>
<text x="32.0" y="833.6" class="s" font-size="9.12" font-weight="bold" fill="#3a3a3a" text-anchor="end" textLength="4.8" lengthAdjust="spacingAndGlyphs">0</text>
<text x="33.6" y="796.3" class="s" font-size="9.12" font-weight="bold" fill="#3a3a3a" text-anchor="end" textLength="17.0" lengthAdjust="spacingAndGlyphs">0.25</text>
<text x="33.6" y="759.9" class="s" font-size="9.12" font-weight="bold" fill="#3a3a3a" text-anchor="end" textLength="12.2" lengthAdjust="spacingAndGlyphs">0.5</text>
<text x="33.6" y="723.6" class="s" font-size="9.12" font-weight="bold" fill="#3a3a3a" text-anchor="end" textLength="17.0" lengthAdjust="spacingAndGlyphs">0.75</text>
<text x="31.6" y="688.9" class="s" font-size="9.12" font-weight="bold" fill="#3a3a3a" text-anchor="end" textLength="4.8" lengthAdjust="spacingAndGlyphs">1</text>
<text x="74.2" y="841.3" class="s" font-size="9.12" font-weight="bold" fill="#3a3a3a" text-anchor="middle" textLength="9.6" lengthAdjust="spacingAndGlyphs">25</text>
<text x="112.8" y="841.3" class="s" font-size="9.12" font-weight="bold" fill="#3a3a3a" text-anchor="middle" textLength="9.6" lengthAdjust="spacingAndGlyphs">50</text>
<text x="151.5" y="841.3" class="s" font-size="9.12" font-weight="bold" fill="#3a3a3a" text-anchor="middle" textLength="9.6" lengthAdjust="spacingAndGlyphs">75</text>
<text x="193.7" y="841.3" class="s" font-size="9.12" font-weight="bold" fill="#3a3a3a" text-anchor="middle" textLength="14.4" lengthAdjust="spacingAndGlyphs">100</text>
<path d="M35.4,794.9h2.3M35.4,758.5h2.3M35.4,722.2h2.3M35.4,824.0h1.3M35.4,816.8h1.3M35.4,809.5h1.3M35.4,802.2h1.3M35.4,787.6h1.3M35.4,780.4h1.3M35.4,773.1h1.3M35.4,765.8h1.3M35.4,751.3h1.3M35.4,744.0h1.3M35.4,736.7h1.3M35.4,729.4h1.3M35.4,714.9h1.3M35.4,707.6h1.3M35.4,700.3h1.3M35.4,693.1h1.3M43.3,831.3v-1.3M51.0,831.3v-1.3M58.7,831.3v-1.3M66.5,831.3v-1.3M74.2,831.3v-2.3M81.9,831.3v-1.3M89.7,831.3v-1.3M97.4,831.3v-1.3M105.1,831.3v-1.3M112.8,831.3v-2.3M120.6,831.3v-1.3M128.3,831.3v-1.3M136.0,831.3v-1.3M143.8,831.3v-1.3M151.5,831.3v-2.3M159.2,831.3v-1.3M167.0,831.3v-1.3M174.7,831.3v-1.3M182.4,831.3v-1.3M190.2,831.3v-2.3M197.9,831.3v-1.3M205.6,831.3v-1.3M213.3,831.3v-1.3M221.1,831.3v-1.3" fill="none" stroke="#30302c" stroke-width="0.75"/>
<text x="136.8" y="851.7" class="s" font-size="11.70" font-weight="bold" stroke="#3a3a3a" stroke-width="0.2" fill="#3a3a3a" text-anchor="middle" textLength="93.5" lengthAdjust="spacingAndGlyphs">Throat radius (μm)</text>
<text x="11.2" y="756.7" class="s" font-size="11.70" font-weight="bold" stroke="#3a3a3a" stroke-width="0.2" fill="#3a3a3a" text-anchor="middle" textLength="87.0" lengthAdjust="spacingAndGlyphs" transform="rotate(-90 11.2 756.7)">Volume fraction</text>
<text x="40.8" y="700.9" class="s" font-size="17.60" font-weight="bold" fill="#fff" text-anchor="start" textLength="9.7" lengthAdjust="spacingAndGlyphs">i.</text>
<text x="214.2" y="825.5" class="s" font-size="15.40" font-weight="bold" fill="#fff" text-anchor="end" textLength="22.0" lengthAdjust="spacingAndGlyphs">BW</text>
<rect x="265.4" y="685.7" width="185.0" height="145.5" fill="#ff4500"/>
<path d="M265.4,821.0 L269.9,818.7 L273.3,811.0 L276.6,794.2 L280.0,770.7 L283.3,750.6 L287.7,725.5 L292.4,708.7 L297.4,698.6 L301.8,694.6 L306.8,692.9 L314.5,687.9 L328.6,686.9 L362.1,685.9 L450.4,685.6 L450.4,831.2 L265.4,831.2Z" fill="#00bfff" stroke="none"/>
<path d="M265.4,821.0 L269.9,818.7 L273.3,811.0 L276.6,794.2 L280.0,770.7 L283.3,750.6 L287.7,725.5 L292.4,708.7 L297.4,698.6 L301.8,694.6 L306.8,692.9 L314.5,687.9 L328.6,686.9 L362.1,685.9 L450.4,685.6" fill="none" stroke="#2b4a55" stroke-width="0.9" stroke-linejoin="round"/>
<rect x="265.4" y="685.7" width="185.0" height="145.5" fill="none" stroke="#20201c" stroke-width="1.2"/>
<text x="261.8" y="833.4" class="s" font-size="9.12" font-weight="bold" fill="#3a3a3a" text-anchor="end" textLength="4.8" lengthAdjust="spacingAndGlyphs">0</text>
<text x="263.2" y="797.0" class="s" font-size="9.12" font-weight="bold" fill="#3a3a3a" text-anchor="end" textLength="17.0" lengthAdjust="spacingAndGlyphs">0.25</text>
<text x="263.2" y="760.7" class="s" font-size="9.12" font-weight="bold" fill="#3a3a3a" text-anchor="end" textLength="12.2" lengthAdjust="spacingAndGlyphs">0.5</text>
<text x="263.2" y="724.3" class="s" font-size="9.12" font-weight="bold" fill="#3a3a3a" text-anchor="end" textLength="17.0" lengthAdjust="spacingAndGlyphs">0.75</text>
<text x="262.3" y="689.6" class="s" font-size="9.12" font-weight="bold" fill="#3a3a3a" text-anchor="end" textLength="4.8" lengthAdjust="spacingAndGlyphs">1</text>
<text x="304.4" y="841.3" class="s" font-size="9.12" font-weight="bold" fill="#3a3a3a" text-anchor="middle" textLength="9.6" lengthAdjust="spacingAndGlyphs">25</text>
<text x="343.0" y="841.3" class="s" font-size="9.12" font-weight="bold" fill="#3a3a3a" text-anchor="middle" textLength="9.6" lengthAdjust="spacingAndGlyphs">50</text>
<text x="381.8" y="841.3" class="s" font-size="9.12" font-weight="bold" fill="#3a3a3a" text-anchor="middle" textLength="9.6" lengthAdjust="spacingAndGlyphs">75</text>
<text x="421.0" y="841.3" class="s" font-size="9.12" font-weight="bold" fill="#3a3a3a" text-anchor="middle" textLength="14.4" lengthAdjust="spacingAndGlyphs">100</text>
<path d="M265.4,794.8h2.3M265.4,758.5h2.3M265.4,722.1h2.3M265.4,823.9h1.3M265.4,816.7h1.3M265.4,809.4h1.3M265.4,802.1h1.3M265.4,787.6h1.3M265.4,780.3h1.3M265.4,773.0h1.3M265.4,765.7h1.3M265.4,751.2h1.3M265.4,743.9h1.3M265.4,736.6h1.3M265.4,729.4h1.3M265.4,714.8h1.3M265.4,707.5h1.3M265.4,700.2h1.3M265.4,693.0h1.3M273.4,831.2v-1.3M281.2,831.2v-1.3M288.9,831.2v-1.3M296.7,831.2v-1.3M304.4,831.2v-2.3M312.1,831.2v-1.3M319.9,831.2v-1.3M327.6,831.2v-1.3M335.4,831.2v-1.3M343.1,831.2v-2.3M350.8,831.2v-1.3M358.6,831.2v-1.3M366.3,831.2v-1.3M374.1,831.2v-1.3M381.8,831.2v-2.3M389.5,831.2v-1.3M397.3,831.2v-1.3M405.0,831.2v-1.3M412.8,831.2v-1.3M420.5,831.2v-2.3M428.2,831.2v-1.3M436.0,831.2v-1.3M443.7,831.2v-1.3" fill="none" stroke="#30302c" stroke-width="0.75"/>
<text x="363.8" y="851.7" class="s" font-size="11.70" font-weight="bold" stroke="#3a3a3a" stroke-width="0.2" fill="#3a3a3a" text-anchor="middle" textLength="93.5" lengthAdjust="spacingAndGlyphs">Throat radius (μm)</text>
<text x="241.6" y="758.1" class="s" font-size="11.70" font-weight="bold" stroke="#3a3a3a" stroke-width="0.2" fill="#3a3a3a" text-anchor="middle" textLength="87.0" lengthAdjust="spacingAndGlyphs" transform="rotate(-90 241.6 758.1)">Volume fraction</text>
<text x="269.4" y="701.4" class="s" font-size="17.60" font-weight="bold" fill="#fff" text-anchor="start" textLength="9.9" lengthAdjust="spacingAndGlyphs">j.</text>
<text x="447.8" y="824.1" class="s" font-size="15.40" font-weight="bold" fill="#fff" text-anchor="end" textLength="35.1" lengthAdjust="spacingAndGlyphs">LSW1</text>
<rect x="499.3" y="685.7" width="184.7" height="145.7" fill="#ff4500"/>
<path d="M499.3,820.3 L504.0,817.6 L508.0,805.9 L511.3,784.1 L514.7,759.0 L518.0,738.8 L522.1,722.1 L526.4,712.0 L533.8,703.6 L538.2,703.0 L547.2,696.9 L556.6,694.6 L575.0,691.2 L623.6,690.2 L684.0,688.2 L684.0,831.4 L499.3,831.4Z" fill="#00bfff" stroke="none"/>
<path d="M499.3,820.3 L504.0,817.6 L508.0,805.9 L511.3,784.1 L514.7,759.0 L518.0,738.8 L522.1,722.1 L526.4,712.0 L533.8,703.6 L538.2,703.0 L547.2,696.9 L556.6,694.6 L575.0,691.2 L623.6,690.2 L684.0,688.2" fill="none" stroke="#2b4a55" stroke-width="0.9" stroke-linejoin="round"/>
<rect x="499.3" y="685.7" width="184.7" height="145.7" fill="none" stroke="#20201c" stroke-width="1.2"/>
<text x="494.8" y="831.8" class="s" font-size="9.12" font-weight="bold" fill="#3a3a3a" text-anchor="end" textLength="4.8" lengthAdjust="spacingAndGlyphs">0</text>
<text x="497.0" y="797.4" class="s" font-size="9.12" font-weight="bold" fill="#3a3a3a" text-anchor="end" textLength="17.0" lengthAdjust="spacingAndGlyphs">0.25</text>
<text x="497.0" y="760.9" class="s" font-size="9.12" font-weight="bold" fill="#3a3a3a" text-anchor="end" textLength="12.2" lengthAdjust="spacingAndGlyphs">0.5</text>
<text x="497.0" y="724.5" class="s" font-size="9.12" font-weight="bold" fill="#3a3a3a" text-anchor="end" textLength="17.0" lengthAdjust="spacingAndGlyphs">0.75</text>
<text x="494.1" y="690.1" class="s" font-size="9.12" font-weight="bold" fill="#3a3a3a" text-anchor="end" textLength="4.8" lengthAdjust="spacingAndGlyphs">1</text>
<text x="536.8" y="841.3" class="s" font-size="9.12" font-weight="bold" fill="#3a3a3a" text-anchor="middle" textLength="9.6" lengthAdjust="spacingAndGlyphs">25</text>
<text x="575.6" y="841.3" class="s" font-size="9.12" font-weight="bold" fill="#3a3a3a" text-anchor="middle" textLength="9.6" lengthAdjust="spacingAndGlyphs">50</text>
<text x="614.6" y="841.3" class="s" font-size="9.12" font-weight="bold" fill="#3a3a3a" text-anchor="middle" textLength="9.6" lengthAdjust="spacingAndGlyphs">75</text>
<text x="654.7" y="841.3" class="s" font-size="9.12" font-weight="bold" fill="#3a3a3a" text-anchor="middle" textLength="14.4" lengthAdjust="spacingAndGlyphs">100</text>
<path d="M499.3,795.0h2.3M499.3,758.5h2.3M499.3,722.1h2.3M499.3,824.1h1.3M499.3,816.8h1.3M499.3,809.5h1.3M499.3,802.3h1.3M499.3,787.7h1.3M499.3,780.4h1.3M499.3,773.1h1.3M499.3,765.8h1.3M499.3,751.3h1.3M499.3,744.0h1.3M499.3,736.7h1.3M499.3,729.4h1.3M499.3,714.8h1.3M499.3,707.6h1.3M499.3,700.3h1.3M499.3,693.0h1.3M505.7,831.4v-1.3M513.5,831.4v-1.3M521.2,831.4v-1.3M529.0,831.4v-1.3M536.8,831.4v-2.3M544.6,831.4v-1.3M552.4,831.4v-1.3M560.1,831.4v-1.3M567.9,831.4v-1.3M575.7,831.4v-2.3M583.5,831.4v-1.3M591.3,831.4v-1.3M599.0,831.4v-1.3M606.8,831.4v-1.3M614.6,831.4v-2.3M622.4,831.4v-1.3M630.2,831.4v-1.3M637.9,831.4v-1.3M645.7,831.4v-1.3M653.5,831.4v-2.3M661.3,831.4v-1.3M669.1,831.4v-1.3M676.8,831.4v-1.3" fill="none" stroke="#30302c" stroke-width="0.75"/>
<text x="599.8" y="851.7" class="s" font-size="11.70" font-weight="bold" stroke="#3a3a3a" stroke-width="0.2" fill="#3a3a3a" text-anchor="middle" textLength="93.5" lengthAdjust="spacingAndGlyphs">Throat radius (μm)</text>
<text x="473.5" y="757.2" class="s" font-size="11.70" font-weight="bold" stroke="#3a3a3a" stroke-width="0.2" fill="#3a3a3a" text-anchor="middle" textLength="87.0" lengthAdjust="spacingAndGlyphs" transform="rotate(-90 473.5 757.2)">Volume fraction</text>
<text x="500.8" y="700.6" class="s" font-size="17.60" font-weight="bold" fill="#fff" text-anchor="start" textLength="14.2" lengthAdjust="spacingAndGlyphs">k.</text>
<text x="679.8" y="824.5" class="s" font-size="15.40" font-weight="bold" fill="#fff" text-anchor="end" textLength="35.1" lengthAdjust="spacingAndGlyphs">LSW2</text>
<rect x="38.1" y="866.6" width="185.1" height="144.6" fill="#ff4500"/>
<path d="M38.1,986.0 L42.9,979.2 L46.9,949.0 L52.0,922.2 L57.0,913.8 L59.7,904.4 L62.0,906.1 L64.4,903.1 L67.1,903.8 L69.4,907.1 L72.1,906.1 L75.4,909.5 L80.5,916.5 L87.2,920.5 L117.3,915.5 L167.6,913.2 L223.2,912.2 L223.2,1011.2 L38.1,1011.2Z" fill="#00bfff" stroke="none"/>
<path d="M38.1,986.0 L42.9,979.2 L46.9,949.0 L52.0,922.2 L57.0,913.8 L59.7,904.4 L62.0,906.1 L64.4,903.1 L67.1,903.8 L69.4,907.1 L72.1,906.1 L75.4,909.5 L80.5,916.5 L87.2,920.5 L117.3,915.5 L167.6,913.2 L223.2,912.2" fill="none" stroke="#2b4a55" stroke-width="0.9" stroke-linejoin="round"/>
<rect x="38.1" y="866.6" width="185.1" height="144.6" fill="none" stroke="#20201c" stroke-width="1.2"/>
<text x="33.7" y="1012.3" class="s" font-size="9.50" font-weight="bold" fill="#3a3a3a" text-anchor="end" textLength="5.0" lengthAdjust="spacingAndGlyphs">0</text>
<text x="35.9" y="977.1" class="s" font-size="9.50" font-weight="bold" fill="#3a3a3a" text-anchor="end" textLength="17.7" lengthAdjust="spacingAndGlyphs">0.25</text>
<text x="35.9" y="940.9" class="s" font-size="9.50" font-weight="bold" fill="#3a3a3a" text-anchor="end" textLength="12.7" lengthAdjust="spacingAndGlyphs">0.5</text>
<text x="35.9" y="904.8" class="s" font-size="9.50" font-weight="bold" fill="#3a3a3a" text-anchor="end" textLength="17.7" lengthAdjust="spacingAndGlyphs">0.75</text>
<text x="32.5" y="869.9" class="s" font-size="9.50" font-weight="bold" fill="#3a3a3a" text-anchor="end" textLength="5.0" lengthAdjust="spacingAndGlyphs">1</text>
<text x="74.8" y="1023.2" class="s" font-size="9.50" font-weight="bold" fill="#3a3a3a" text-anchor="middle" textLength="10.0" lengthAdjust="spacingAndGlyphs">25</text>
<text x="114.8" y="1023.2" class="s" font-size="9.50" font-weight="bold" fill="#3a3a3a" text-anchor="middle" textLength="10.0" lengthAdjust="spacingAndGlyphs">50</text>
<text x="154.3" y="1023.2" class="s" font-size="9.50" font-weight="bold" fill="#3a3a3a" text-anchor="middle" textLength="10.0" lengthAdjust="spacingAndGlyphs">75</text>
<text x="194.8" y="1023.2" class="s" font-size="9.50" font-weight="bold" fill="#3a3a3a" text-anchor="middle" textLength="15.1" lengthAdjust="spacingAndGlyphs">100</text>
<path d="M38.1,975.1h2.3M38.1,938.9h2.3M38.1,902.8h2.3M38.1,1004.0h1.3M38.1,996.7h1.3M38.1,989.5h1.3M38.1,982.3h1.3M38.1,967.8h1.3M38.1,960.6h1.3M38.1,953.4h1.3M38.1,946.1h1.3M38.1,931.7h1.3M38.1,924.4h1.3M38.1,917.2h1.3M38.1,910.0h1.3M38.1,895.5h1.3M38.1,888.3h1.3M38.1,881.1h1.3M38.1,873.8h1.3M43.0,1011.2v-1.3M50.9,1011.2v-1.3M58.9,1011.2v-1.3M66.8,1011.2v-1.3M74.8,1011.2v-2.3M82.8,1011.2v-1.3M90.7,1011.2v-1.3M98.7,1011.2v-1.3M106.6,1011.2v-1.3M114.6,1011.2v-2.3M122.5,1011.2v-1.3M130.5,1011.2v-1.3M138.4,1011.2v-1.3M146.4,1011.2v-1.3M154.3,1011.2v-2.3M162.2,1011.2v-1.3M170.2,1011.2v-1.3M178.2,1011.2v-1.3M186.1,1011.2v-1.3M194.1,1011.2v-2.3M202.0,1011.2v-1.3M210.0,1011.2v-1.3M217.9,1011.2v-1.3" fill="none" stroke="#30302c" stroke-width="0.75"/>
<text x="140.8" y="1036.0" class="s" font-size="11.70" font-weight="bold" stroke="#3a3a3a" stroke-width="0.2" fill="#3a3a3a" text-anchor="middle" textLength="100.8" lengthAdjust="spacingAndGlyphs">Throat radius (μm)</text>
<text x="11.2" y="937.2" class="s" font-size="11.70" font-weight="bold" stroke="#3a3a3a" stroke-width="0.2" fill="#3a3a3a" text-anchor="middle" textLength="87.0" lengthAdjust="spacingAndGlyphs" transform="rotate(-90 11.2 937.2)">Volume fraction</text>
<text x="40.8" y="882.7" class="s" font-size="17.60" font-weight="bold" fill="#fff" text-anchor="start" textLength="9.7" lengthAdjust="spacingAndGlyphs">l.</text>
<text x="218.3" y="1006.1" class="s" font-size="15.40" font-weight="bold" fill="#fff" text-anchor="end" textLength="35.6" lengthAdjust="spacingAndGlyphs">LSW4</text>
<rect x="265.7" y="867.4" width="187.2" height="144.9" fill="#ff4500"/>
<path d="M265.7,987.7 L270.9,979.3 L274.9,949.1 L280.0,915.5 L282.3,912.2 L284.3,901.4 L286.7,902.1 L290.0,897.1 L293.4,898.8 L300.1,897.1 L306.8,903.8 L315.8,909.5 L345.3,912.2 L452.9,913.2 L452.9,1012.3 L265.7,1012.3Z" fill="#00bfff" stroke="none"/>
<path d="M265.7,987.7 L270.9,979.3 L274.9,949.1 L280.0,915.5 L282.3,912.2 L284.3,901.4 L286.7,902.1 L290.0,897.1 L293.4,898.8 L300.1,897.1 L306.8,903.8 L315.8,909.5 L345.3,912.2 L452.9,913.2" fill="none" stroke="#2b4a55" stroke-width="0.9" stroke-linejoin="round"/>
<rect x="265.7" y="867.4" width="187.2" height="144.9" fill="none" stroke="#20201c" stroke-width="1.2"/>
<text x="261.8" y="1014.0" class="s" font-size="9.50" font-weight="bold" fill="#3a3a3a" text-anchor="end" textLength="5.0" lengthAdjust="spacingAndGlyphs">0</text>
<text x="263.2" y="978.2" class="s" font-size="9.50" font-weight="bold" fill="#3a3a3a" text-anchor="end" textLength="17.7" lengthAdjust="spacingAndGlyphs">0.25</text>
<text x="263.2" y="941.9" class="s" font-size="9.50" font-weight="bold" fill="#3a3a3a" text-anchor="end" textLength="12.7" lengthAdjust="spacingAndGlyphs">0.5</text>
<text x="263.2" y="905.7" class="s" font-size="9.50" font-weight="bold" fill="#3a3a3a" text-anchor="end" textLength="17.7" lengthAdjust="spacingAndGlyphs">0.75</text>
<text x="262.6" y="869.9" class="s" font-size="9.50" font-weight="bold" fill="#3a3a3a" text-anchor="end" textLength="5.0" lengthAdjust="spacingAndGlyphs">1</text>
<text x="304.4" y="1023.6" class="s" font-size="9.50" font-weight="bold" fill="#3a3a3a" text-anchor="middle" textLength="10.0" lengthAdjust="spacingAndGlyphs">25</text>
<text x="343.7" y="1023.6" class="s" font-size="9.50" font-weight="bold" fill="#3a3a3a" text-anchor="middle" textLength="10.0" lengthAdjust="spacingAndGlyphs">50</text>
<text x="383.0" y="1023.6" class="s" font-size="9.50" font-weight="bold" fill="#3a3a3a" text-anchor="middle" textLength="10.0" lengthAdjust="spacingAndGlyphs">75</text>
<text x="423.2" y="1023.6" class="s" font-size="9.50" font-weight="bold" fill="#3a3a3a" text-anchor="middle" textLength="15.1" lengthAdjust="spacingAndGlyphs">100</text>
<path d="M265.7,976.1h2.3M265.7,939.8h2.3M265.7,903.6h2.3M265.7,1005.1h1.3M265.7,997.8h1.3M265.7,990.6h1.3M265.7,983.3h1.3M265.7,968.8h1.3M265.7,961.6h1.3M265.7,954.3h1.3M265.7,947.1h1.3M265.7,932.6h1.3M265.7,925.4h1.3M265.7,918.1h1.3M265.7,910.9h1.3M265.7,896.4h1.3M265.7,889.1h1.3M265.7,881.9h1.3M265.7,874.6h1.3M273.0,1012.3v-1.3M280.8,1012.3v-1.3M288.7,1012.3v-1.3M296.5,1012.3v-1.3M304.4,1012.3v-2.3M312.3,1012.3v-1.3M320.1,1012.3v-1.3M328.0,1012.3v-1.3M335.8,1012.3v-1.3M343.7,1012.3v-2.3M351.6,1012.3v-1.3M359.4,1012.3v-1.3M367.3,1012.3v-1.3M375.1,1012.3v-1.3M383.0,1012.3v-2.3M390.9,1012.3v-1.3M398.7,1012.3v-1.3M406.6,1012.3v-1.3M414.4,1012.3v-1.3M422.3,1012.3v-2.3M430.2,1012.3v-1.3M438.0,1012.3v-1.3M445.9,1012.3v-1.3" fill="none" stroke="#30302c" stroke-width="0.75"/>
<text x="368.1" y="1036.3" class="s" font-size="11.70" font-weight="bold" stroke="#3a3a3a" stroke-width="0.2" fill="#3a3a3a" text-anchor="middle" textLength="101.6" lengthAdjust="spacingAndGlyphs">Throat radius (μm)</text>
<text x="241.2" y="937.2" class="s" font-size="11.70" font-weight="bold" stroke="#3a3a3a" stroke-width="0.2" fill="#3a3a3a" text-anchor="middle" textLength="87.0" lengthAdjust="spacingAndGlyphs" transform="rotate(-90 241.2 937.2)">Volume fraction</text>
<text x="269.6" y="882.9" class="s" font-size="17.60" font-weight="bold" fill="#fff" text-anchor="start" textLength="20.5" lengthAdjust="spacingAndGlyphs">m.</text>
<text x="449.0" y="1006.9" class="s" font-size="15.40" font-weight="bold" fill="#fff" text-anchor="end" textLength="42.8" lengthAdjust="spacingAndGlyphs">LSW11</text>
<rect x="498.7" y="868.0" width="186.4" height="145.0" fill="#ff4500"/>
<path d="M498.7,991.0 L503.6,981.0 L507.0,952.4 L510.3,915.5 L513.7,890.4 L516.4,878.6 L520.4,872.6 L528.1,870.6 L534.8,872.6 L556.6,871.2 L685.1,870.9 L685.1,1013.0 L498.7,1013.0Z" fill="#00bfff" stroke="none"/>
<path d="M498.7,991.0 L503.6,981.0 L507.0,952.4 L510.3,915.5 L513.7,890.4 L516.4,878.6 L520.4,872.6 L528.1,870.6 L534.8,872.6 L556.6,871.2 L685.1,870.9" fill="none" stroke="#2b4a55" stroke-width="0.9" stroke-linejoin="round"/>
<rect x="498.7" y="868.0" width="186.4" height="145.0" fill="none" stroke="#20201c" stroke-width="1.2"/>
<text x="494.6" y="1015.0" class="s" font-size="9.50" font-weight="bold" fill="#3a3a3a" text-anchor="end" textLength="5.0" lengthAdjust="spacingAndGlyphs">0</text>
<text x="496.8" y="978.5" class="s" font-size="9.50" font-weight="bold" fill="#3a3a3a" text-anchor="end" textLength="17.7" lengthAdjust="spacingAndGlyphs">0.25</text>
<text x="496.8" y="942.2" class="s" font-size="9.50" font-weight="bold" fill="#3a3a3a" text-anchor="end" textLength="12.7" lengthAdjust="spacingAndGlyphs">0.5</text>
<text x="496.8" y="906.0" class="s" font-size="9.50" font-weight="bold" fill="#3a3a3a" text-anchor="end" textLength="17.7" lengthAdjust="spacingAndGlyphs">0.75</text>
<text x="494.5" y="868.7" class="s" font-size="9.50" font-weight="bold" fill="#3a3a3a" text-anchor="end" textLength="5.0" lengthAdjust="spacingAndGlyphs">1</text>
<text x="539.4" y="1023.9" class="s" font-size="9.50" font-weight="bold" fill="#3a3a3a" text-anchor="middle" textLength="10.0" lengthAdjust="spacingAndGlyphs">25</text>
<text x="578.2" y="1023.9" class="s" font-size="9.50" font-weight="bold" fill="#3a3a3a" text-anchor="middle" textLength="10.0" lengthAdjust="spacingAndGlyphs">50</text>
<text x="616.8" y="1023.9" class="s" font-size="9.50" font-weight="bold" fill="#3a3a3a" text-anchor="middle" textLength="10.0" lengthAdjust="spacingAndGlyphs">75</text>
<text x="655.6" y="1023.9" class="s" font-size="9.50" font-weight="bold" fill="#3a3a3a" text-anchor="middle" textLength="15.1" lengthAdjust="spacingAndGlyphs">100</text>
<path d="M498.7,976.8h2.3M498.7,940.5h2.3M498.7,904.2h2.3M498.7,1005.8h1.3M498.7,998.5h1.3M498.7,991.2h1.3M498.7,984.0h1.3M498.7,969.5h1.3M498.7,962.2h1.3M498.7,955.0h1.3M498.7,947.8h1.3M498.7,933.2h1.3M498.7,926.0h1.3M498.7,918.8h1.3M498.7,911.5h1.3M498.7,897.0h1.3M498.7,889.8h1.3M498.7,882.5h1.3M498.7,875.2h1.3M508.4,1013.0v-1.3M516.2,1013.0v-1.3M523.9,1013.0v-1.3M531.7,1013.0v-1.3M539.4,1013.0v-2.3M547.1,1013.0v-1.3M554.9,1013.0v-1.3M562.6,1013.0v-1.3M570.4,1013.0v-1.3M578.1,1013.0v-2.3M585.8,1013.0v-1.3M593.6,1013.0v-1.3M601.3,1013.0v-1.3M609.1,1013.0v-1.3M616.8,1013.0v-2.3M624.5,1013.0v-1.3M632.3,1013.0v-1.3M640.0,1013.0v-1.3M647.8,1013.0v-1.3M655.5,1013.0v-2.3M663.2,1013.0v-1.3M671.0,1013.0v-1.3M678.7,1013.0v-1.3" fill="none" stroke="#30302c" stroke-width="0.75"/>
<text x="606.5" y="1036.3" class="s" font-size="11.70" font-weight="bold" stroke="#3a3a3a" stroke-width="0.2" fill="#3a3a3a" text-anchor="middle" textLength="100.5" lengthAdjust="spacingAndGlyphs">Throat radius (μm)</text>
<text x="475.8" y="939.4" class="s" font-size="11.70" font-weight="bold" stroke="#3a3a3a" stroke-width="0.2" fill="#3a3a3a" text-anchor="middle" textLength="87.0" lengthAdjust="spacingAndGlyphs" transform="rotate(-90 475.8 939.4)">Volume fraction</text>
<text x="501.0" y="882.6" class="s" font-size="17.60" font-weight="bold" fill="#fff" text-anchor="start" textLength="15.3" lengthAdjust="spacingAndGlyphs">n.</text>
<text x="679.4" y="1006.9" class="s" font-size="15.40" font-weight="bold" fill="#fff" text-anchor="end" textLength="42.8" lengthAdjust="spacingAndGlyphs">LSW42</text>
</svg></body></html>
